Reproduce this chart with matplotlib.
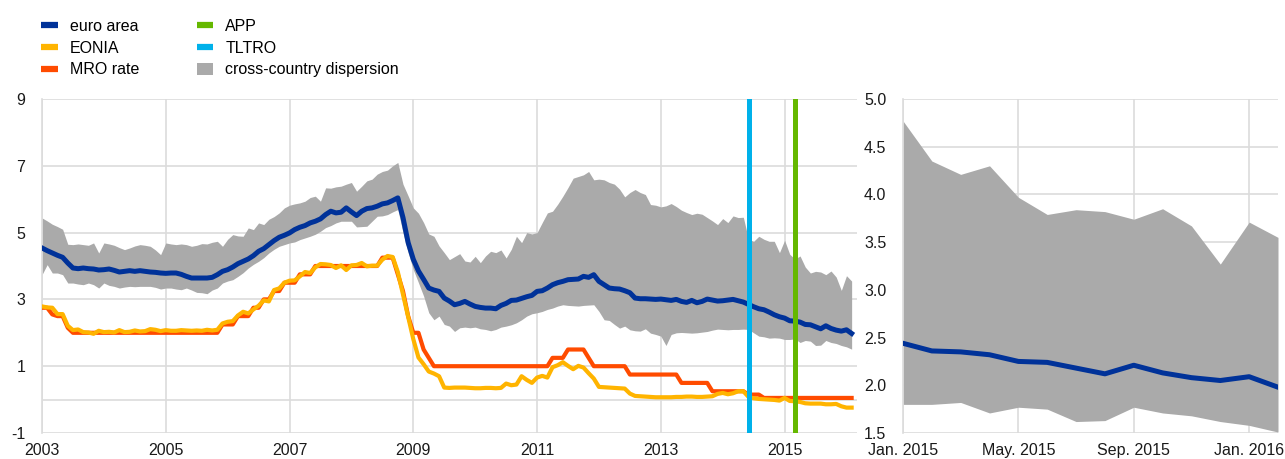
import numpy as np
import matplotlib.pyplot as plt
from matplotlib.lines import Line2D
from matplotlib.patches import Patch

plt.rcParams['font.family'] = ['Liberation Sans', 'DejaVu Sans']
plt.rcParams['axes.unicode_minus'] = False

# monthly data, Jan. 2003 - Feb. 2016
start_year = 2003

euro_area = [
    4.54, 4.46, 4.39, 4.32, 4.26, 4.09, 3.94, 3.92, 3.94, 3.92, 3.91, 3.88,
    3.89, 3.91, 3.87, 3.82, 3.84, 3.86, 3.84, 3.86, 3.84, 3.82, 3.81, 3.79,
    3.78, 3.79, 3.79, 3.75, 3.69, 3.64, 3.64, 3.64, 3.64, 3.66, 3.74, 3.84,
    3.89, 3.97, 4.07, 4.14, 4.21, 4.31, 4.44, 4.52, 4.64, 4.76, 4.86, 4.92,
    4.99, 5.09, 5.16, 5.21, 5.29, 5.34, 5.41, 5.54, 5.64, 5.59, 5.61, 5.74,
    5.62, 5.51, 5.64, 5.72, 5.74, 5.79, 5.86, 5.89, 5.96, 6.04, 5.45, 4.70,
    4.20, 3.85, 3.60, 3.34, 3.28, 3.24, 3.04, 2.95, 2.84, 2.88, 2.94, 2.86,
    2.79, 2.76, 2.74, 2.74, 2.72, 2.82, 2.88, 2.97, 2.98, 3.03, 3.08, 3.12,
    3.24, 3.26, 3.34, 3.44, 3.50, 3.54, 3.59, 3.60, 3.61, 3.69, 3.66, 3.74,
    3.54, 3.44, 3.34, 3.32, 3.31, 3.26, 3.20, 3.04, 3.02, 3.02, 3.01, 3.00,
    3.01, 2.99, 2.97, 3.00, 2.94, 2.91, 2.97, 2.90, 2.94, 3.01, 2.98, 2.95,
    2.96, 2.98, 3.00, 2.96, 2.92, 2.85, 2.78, 2.72, 2.69, 2.62, 2.54, 2.48,
    2.44, 2.36, 2.35, 2.32, 2.25, 2.24, 2.18, 2.12, 2.21, 2.13, 2.08, 2.05,
    2.09, 1.98,
]

disp_upper = [
    5.44, 5.35, 5.25, 5.18, 5.10, 4.65, 4.64, 4.66, 4.64, 4.62, 4.69, 4.39,
    4.69, 4.66, 4.62, 4.55, 4.49, 4.54, 4.60, 4.64, 4.62, 4.59, 4.48, 4.34,
    4.69, 4.66, 4.64, 4.66, 4.64, 4.59, 4.62, 4.67, 4.66, 4.71, 4.74, 4.59,
    4.80, 4.94, 4.90, 4.89, 5.14, 5.09, 5.29, 5.24, 5.40, 5.48, 5.59, 5.74,
    5.82, 5.86, 5.89, 5.94, 6.05, 6.09, 5.94, 6.34, 6.33, 6.37, 6.39, 6.45,
    6.50, 6.24, 6.39, 6.55, 6.60, 6.75, 6.83, 6.87, 7.00, 7.10, 6.45, 6.10,
    5.74, 5.58, 5.30, 4.96, 4.89, 4.60, 4.40, 4.19, 4.28, 4.37, 4.15, 4.12,
    4.29, 4.10, 4.30, 4.44, 4.40, 4.48, 4.24, 4.50, 4.89, 4.70, 5.00, 4.96,
    5.00, 5.30, 5.59, 5.64, 5.85, 6.09, 6.35, 6.63, 6.68, 6.73, 6.83, 6.58,
    6.60, 6.58, 6.50, 6.45, 6.30, 6.07, 6.20, 6.29, 6.20, 6.14, 5.84, 5.82,
    5.77, 5.80, 5.87, 5.78, 5.67, 5.60, 5.54, 5.58, 5.55, 5.45, 5.35, 5.24,
    5.42, 5.30, 5.50, 5.45, 5.46, 4.80, 4.74, 4.89, 4.80, 4.74, 4.74, 4.40,
    4.77, 4.35, 4.21, 4.30, 3.97, 3.79, 3.84, 3.82, 3.74, 3.85, 3.67, 3.27,
    3.71, 3.55,
]

disp_lower = [
    3.74, 4.04, 3.79, 3.79, 3.74, 3.49, 3.49, 3.46, 3.44, 3.49, 3.44, 3.34,
    3.49, 3.42, 3.39, 3.34, 3.37, 3.39, 3.38, 3.39, 3.39, 3.39, 3.36, 3.31,
    3.34, 3.34, 3.31, 3.29, 3.34, 3.28, 3.21, 3.20, 3.17, 3.28, 3.34, 3.49,
    3.55, 3.59, 3.69, 3.80, 3.94, 4.05, 4.14, 4.25, 4.39, 4.50, 4.59, 4.64,
    4.69, 4.72, 4.79, 4.84, 4.89, 4.95, 5.04, 5.15, 5.21, 5.29, 5.34, 5.34,
    5.34, 5.17, 5.18, 5.19, 5.34, 5.49, 5.50, 5.54, 5.62, 5.69, 5.00, 4.40,
    3.89, 3.50, 3.10, 2.60, 2.39, 2.50, 2.25, 2.20, 2.04, 2.15, 2.17, 2.15,
    2.17, 2.12, 2.10, 2.06, 2.10, 2.17, 2.20, 2.24, 2.30, 2.39, 2.50, 2.57,
    2.60, 2.64, 2.70, 2.74, 2.80, 2.84, 2.82, 2.81, 2.80, 2.82, 2.83, 2.84,
    2.64, 2.39, 2.37, 2.25, 2.14, 2.20, 2.09, 2.06, 2.05, 2.12, 1.99, 1.95,
    1.90, 1.62, 1.95, 2.00, 2.01, 2.00, 1.99, 2.00, 2.02, 2.04, 2.08, 2.11,
    2.10, 2.09, 2.10, 2.10, 2.11, 2.10, 2.00, 1.90, 1.88, 1.84, 1.85, 1.84,
    1.80, 1.80, 1.82, 1.71, 1.77, 1.75, 1.62, 1.63, 1.77, 1.71, 1.68, 1.62,
    1.58, 1.51,
]

eonia = [
    2.79, 2.76, 2.75, 2.56, 2.56, 2.21, 2.08, 2.10, 2.02, 2.01, 1.97, 2.06,
    2.02, 2.03, 2.01, 2.08, 2.02, 2.03, 2.07, 2.04, 2.05, 2.11, 2.09, 2.05,
    2.08, 2.06, 2.06, 2.08, 2.07, 2.06, 2.07, 2.06, 2.09, 2.07, 2.09, 2.28,
    2.33, 2.35, 2.52, 2.63, 2.58, 2.70, 2.81, 2.97, 2.94, 3.28, 3.33, 3.50,
    3.56, 3.57, 3.69, 3.82, 3.79, 3.96, 4.06, 4.05, 4.03, 3.94, 4.02, 3.88,
    4.02, 4.03, 4.09, 3.99, 4.01, 4.01, 4.19, 4.30, 4.27, 3.82, 3.15, 2.49,
    1.81, 1.26, 1.06, 0.84, 0.78, 0.70, 0.36, 0.35, 0.36, 0.36, 0.36, 0.35,
    0.34, 0.34, 0.35, 0.35, 0.34, 0.35, 0.48, 0.43, 0.45, 0.70, 0.59, 0.50,
    0.66, 0.71, 0.66, 0.97, 1.03, 1.12, 1.01, 0.91, 1.01, 0.96, 0.79, 0.63,
    0.38, 0.37, 0.36, 0.35, 0.34, 0.33, 0.18, 0.11, 0.10, 0.09, 0.08, 0.07,
    0.07, 0.07, 0.07, 0.08, 0.08, 0.09, 0.09, 0.08, 0.08, 0.09, 0.10, 0.17,
    0.20, 0.16, 0.19, 0.25, 0.25, 0.08, 0.04, 0.02, 0.01, 0.00, -0.01, -0.03,
    0.05, -0.04, -0.05, -0.07, -0.11, -0.12, -0.12, -0.12, -0.14, -0.14, -0.13, -0.20,
    -0.24, -0.24,
]

mro_rate = [
    2.75, 2.75, 2.55, 2.50, 2.50, 2.15, 2.00, 2.00, 2.00, 2.00, 2.00, 2.00,
    2.00, 2.00, 2.00, 2.00, 2.00, 2.00, 2.00, 2.00, 2.00, 2.00, 2.00, 2.00,
    2.00, 2.00, 2.00, 2.00, 2.00, 2.00, 2.00, 2.00, 2.00, 2.00, 2.00, 2.25,
    2.25, 2.25, 2.50, 2.50, 2.50, 2.75, 2.75, 3.00, 3.00, 3.25, 3.25, 3.50,
    3.50, 3.50, 3.75, 3.75, 3.75, 4.00, 4.00, 4.00, 4.00, 4.00, 4.00, 4.00,
    4.00, 4.00, 4.00, 4.00, 4.00, 4.00, 4.25, 4.25, 4.25, 3.75, 3.25, 2.50,
    2.00, 2.00, 1.50, 1.25, 1.00, 1.00, 1.00, 1.00, 1.00, 1.00, 1.00, 1.00,
    1.00, 1.00, 1.00, 1.00, 1.00, 1.00, 1.00, 1.00, 1.00, 1.00, 1.00, 1.00,
    1.00, 1.00, 1.00, 1.25, 1.25, 1.25, 1.50, 1.50, 1.50, 1.50, 1.25, 1.00,
    1.00, 1.00, 1.00, 1.00, 1.00, 1.00, 0.75, 0.75, 0.75, 0.75, 0.75, 0.75,
    0.75, 0.75, 0.75, 0.75, 0.50, 0.50, 0.50, 0.50, 0.50, 0.50, 0.25, 0.25,
    0.25, 0.25, 0.25, 0.25, 0.25, 0.15, 0.15, 0.15, 0.05, 0.05, 0.05, 0.05,
    0.05, 0.05, 0.05, 0.05, 0.05, 0.05, 0.05, 0.05, 0.05, 0.05, 0.05, 0.05,
    0.05, 0.05,
]

# policy announcements (decimal year)
tltro_date = 2014.42
app_date = 2015.17

left_xticks = [2003, 2005, 2007, 2009, 2011, 2013, 2015]
left_yticks = [-1, 1, 3, 5, 7, 9]

# zoom panel: Jan. 2015 onwards
zoom_start = 144
zoom_ticklabels = ['Jan. 2015', 'May. 2015', 'Sep. 2015', 'Jan. 2016']
zoom_yticks = [1.5, 2.0, 2.5, 3.0, 3.5, 4.0, 4.5, 5.0]

c_blue = '#003299'
c_yellow = '#FFB400'
c_red = '#FF4B00'
c_green = '#65B800'
c_cyan = '#00B1EA'
c_grey = '#AAAAAA'
c_grid = '#DCDCDC'

t = start_year + np.arange(len(euro_area)) / 12

fig = plt.figure(figsize=(12.85, 4.59), dpi=100)
ax = fig.add_axes([42 / 1285, 26 / 459, 815 / 1285, 334 / 459])
ax2 = fig.add_axes([903 / 1285, 26 / 459, 375 / 1285, 334 / 459])

# left panel
ax.fill_between(t, disp_lower, disp_upper, color=c_grey, lw=0, zorder=1)
ax.plot(t, mro_rate, color=c_red, lw=3.0, zorder=3, solid_joinstyle='round')
ax.plot(t, eonia, color=c_yellow, lw=3.0, zorder=4, solid_joinstyle='round')
ax.plot(t, euro_area, color=c_blue, lw=3.6, zorder=5, solid_joinstyle='round')
ax.axvline(tltro_date, color=c_cyan, lw=3.6, zorder=6)
ax.axvline(app_date, color=c_green, lw=3.6, zorder=6)
ax.axhline(0, color=c_grid, lw=1.2, zorder=0)

ax.set_xlim(2003, 2016.17)
ax.set_ylim(-1, 9)
ax.set_xticks(left_xticks)
ax.set_xticklabels([str(y) for y in left_xticks])
ax.set_yticks(left_yticks)

# right panel
n_zoom = len(euro_area) - zoom_start
tz = np.arange(n_zoom)
ax2.fill_between(tz, disp_lower[zoom_start:], disp_upper[zoom_start:],
                 color=c_grey, lw=0, zorder=1)
ax2.plot(tz, euro_area[zoom_start:], color=c_blue, lw=3.6, zorder=5,
         solid_joinstyle='round')
ax2.set_xlim(0, n_zoom - 1)
ax2.set_ylim(1.5, 5.0)
ax2.set_xticks([0, 4, 8, 12])
ax2.set_xticklabels(zoom_ticklabels)
ax2.set_yticks(zoom_yticks)
ax2.set_yticklabels(['%.1f' % v for v in zoom_yticks])

for a in (ax, ax2):
    a.grid(True, color=c_grid, lw=1.2, zorder=0)
    a.set_axisbelow(True)
    for s in ('top', 'right', 'bottom'):
        a.spines[s].set_visible(False)
    a.spines['left'].set_color(c_grid)
    a.spines['left'].set_linewidth(1.2)
    a.tick_params(length=0, labelsize=11.5, colors='#1a1a1a')
    a.tick_params(axis='x', pad=7)
    a.tick_params(axis='y', pad=12)

handles = [
    Line2D([], [], color=c_blue, lw=4.5, solid_capstyle='butt'),
    Line2D([], [], color=c_yellow, lw=4.5, solid_capstyle='butt'),
    Line2D([], [], color=c_red, lw=4.5, solid_capstyle='butt'),
    Line2D([], [], color=c_green, lw=4.5, solid_capstyle='butt'),
    Line2D([], [], color=c_cyan, lw=4.5, solid_capstyle='butt'),
    Patch(facecolor=c_grey, edgecolor='none'),
]
labels = ['euro area', 'EONIA', 'MRO rate', 'APP', 'TLTRO',
          'cross-country dispersion']
fig.legend(handles, labels, ncol=2, loc='upper left',
           bbox_to_anchor=(41 / 1285, 1 - 19 / 459), frameon=False,
           fontsize=11.5, handlelength=1.05, handleheight=0.8,
           handletextpad=0.75, columnspacing=3.6, labelspacing=0.42,
           borderpad=0, borderaxespad=0)

fig.savefig('out.png', dpi=100)
